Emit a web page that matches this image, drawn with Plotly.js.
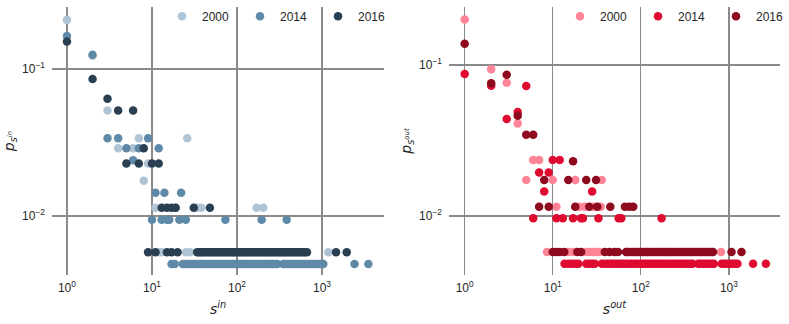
<!DOCTYPE html>
<html>
<head>
<meta charset="utf-8">
<script src="https://cdn.plot.ly/plotly-3.0.1.min.js"></script>
<style>
  html, body { margin: 0; padding: 0; background: #fff; }
  #chart { width: 789px; height: 324px; }
</style>
</head>
<body>
<div id="chart"></div>
<script>
// in-strength distribution (left panel): [s, p] pairs above the tail, tail rows at one level
var in2000Top = [[1,0.216],[2,0.123],[3,0.0523],[4,0.0289],[6,0.0289],[7,0.0338],[26,0.0338],[9,0.0228],[8,0.0174],
  [11,0.0114],[19,0.0114],[34,0.0114],[38,0.0114],[170,0.0114],[204,0.0114]];
var in2000Tail = [12, 13, 25, 28, 35, 39, 43, 47, 52, 58, 65, 72, 80, 89, 98, 110, 121, 134, 150, 166, 184, 205,
  228, 254, 283, 315, 350, 390, 436, 488, 545, 610, 1186];
var in2000Low = 0.00568;

var in2014Top = [[1,0.168],[2,0.125],[3,0.0338],[4,0.0338],[9,0.0338],[5,0.0289],[7,0.0289],[12,0.0289],[6,0.024],
  [11,0.0144],[14,0.0144],[22,0.0144],[10,0.00943],[13,0.00943],[15,0.00943],[16,0.00943],[21,0.00943],
  [25,0.00943],[73,0.00943],[195,0.00943],[384,0.00943]];
var in2014Tail = [17, 18.5, 23, 24.5, 26, 27.5, 29, 31, 33, 35, 37, 39, 41, 44, 46, 49, 52, 55, 58, 61, 64, 68, 72,
  76, 80, 85, 90, 95, 101, 107, 113, 119, 126, 133, 141, 149, 158, 167, 177, 187, 198, 210, 222, 235, 249, 264,
  280, 298, 350, 372, 395, 419, 445, 472, 500, 530, 562, 596, 632, 670, 712, 755, 800, 850, 905, 960, 1036,
  2410, 3508];
var in2014Low = 0.00472;

var in2016Top = [[1,0.154],[2,0.0855],[3,0.0628],[4,0.0523],[6,0.0523],[8,0.0289],[5,0.0228],[7,0.0228],[10,0.0228],
  [12,0.0228],[13,0.0114],[15,0.0114],[17,0.0114],[19,0.0114],[31,0.0114],[48,0.0114]];
var in2016Tail = [9, 11, 15, 17, 20, 34, 36, 38, 40, 43, 46, 49, 52, 55, 58, 62, 66, 70, 74, 79, 84, 89, 94, 100,
  106, 113, 120, 127, 135, 143, 152, 161, 171, 182, 193, 205, 218, 231, 245, 260, 276, 293, 311, 330, 350, 372,
  395, 419, 445, 472, 501, 532, 565, 600, 630, 665, 1462, 1952];
var in2016Low = 0.00568;

// out-strength distribution (right panel)
var out2000Top = [[1,0.2],[2,0.0937],[3,0.0763],[4,0.041],[6,0.0235],[7,0.0235],[5,0.0173],[10,0.0173],[18,0.0173],
  [36,0.0173],[11,0.0115],[20,0.0115],[23,0.0115],[29,0.0115],[35,0.0115]];
var out2000Tail = [8.6, 15, 17, 24, 26, 28, 30, 32, 34, 70, 90, 120, 160, 210, 280, 370, 480, 600, 815];
var out2000Low = 0.00578;

var out2014Top = [[1,0.0872],[2,0.0729],[5,0.0726],[4,0.0489],[3,0.0439],[10,0.0235],[12,0.0235],[7,0.0194],
  [9,0.0194],[8,0.0145],[28,0.0145],[6,0.00967],[11,0.00967],[13,0.00967],[17,0.00967],[21,0.00967],
  [22,0.00967],[33,0.00967],[56,0.00967],[60,0.00967],[172,0.00967]];
var out2014Tail = [13.6, 15, 16.5, 18, 19.5, 24, 26, 28, 30, 36, 39, 42, 45, 48, 52, 56, 60, 64, 69, 74, 79, 85, 91,
  98, 105, 112, 120, 129, 138, 148, 158, 170, 182, 195, 209, 224, 240, 257, 275, 295, 316, 338, 362, 388, 450,
  480, 515, 550, 590, 630, 675, 830, 890, 950, 1020, 1090, 1170, 1250, 1880, 2630];
var out2014Low = 0.00483;

var out2016Top = [[1,0.138],[2,0.0756],[3,0.0863],[4,0.0461],[5,0.0345],[6,0.0345],[17,0.023],[8,0.0173],[15,0.0173],
  [24,0.0173],[31,0.0173],[7,0.0115],[9,0.0115],[18,0.0115],[26,0.0115],[32,0.0115],[45,0.0115],[66,0.0115],
  [74,0.0115],[82,0.0115]];
var out2016Tail = [10, 11, 12, 13.5, 19, 21, 39, 44, 50, 55, 68, 72, 77, 82, 87, 93, 99, 105, 112, 119, 127, 135,
  144, 153, 163, 173, 184, 196, 209, 222, 236, 251, 267, 284, 302, 321, 342, 364, 387, 412, 438, 466, 496, 528,
  561, 597, 635, 660, 1070, 1390];
var out2016Low = 0.00578;

var years = ['2000', '2014', '2016'];
var blues = ['#afc5d6', '#5f8aa7', '#2b3f52'];
var reds = ['#ff8497', '#de0a30', '#8e0a1e'];

var xTickVals = [1, 10, 100, 1000];
var xTickText = ['10<sup>0</sup>', '10<sup>1</sup>', '10<sup>2</sup>', '10<sup>3</sup>'];
var yTickVals = [0.1, 0.01];
var yTickText = ['10<sup>\u22121</sup>', '10<sup>\u22122</sup>'];

function makeTrace(top, tail, low, name, color, xa, ya, leg) {
  return {
    x: top.map(function(d) { return d[0]; }).concat(tail),
    y: top.map(function(d) { return d[1]; }).concat(tail.map(function() { return low; })),
    mode: 'markers',
    type: 'scatter',
    name: name,
    xaxis: xa,
    yaxis: ya,
    legend: leg,
    marker: {color: color, size: 8.5, line: {width: 0}},
    hoverinfo: 'x+y'
  };
}

var data = [
  makeTrace(in2000Top, in2000Tail, in2000Low, years[0], blues[0], 'x', 'y', 'legend'),
  makeTrace(in2014Top, in2014Tail, in2014Low, years[1], blues[1], 'x', 'y', 'legend'),
  makeTrace(in2016Top, in2016Tail, in2016Low, years[2], blues[2], 'x', 'y', 'legend'),
  makeTrace(out2000Top, out2000Tail, out2000Low, years[0], reds[0], 'x2', 'y2', 'legend2'),
  makeTrace(out2014Top, out2014Tail, out2014Low, years[1], reds[1], 'x2', 'y2', 'legend2'),
  makeTrace(out2016Top, out2016Tail, out2016Low, years[2], reds[2], 'x2', 'y2', 'legend2')
];

var W = 789;
var tickFont = {family: 'Liberation Sans, Arial, sans-serif', size: 12, color: '#262626'};
var titleFont = {family: 'DejaVu Sans, sans-serif', size: 14, color: '#262626'};

function xAxis(domain, range, title) {
  return {
    type: 'log',
    domain: domain,
    range: range,
    tickmode: 'array',
    tickvals: xTickVals,
    ticktext: xTickText,
    ticks: '',
    showgrid: true,
    gridcolor: '#8a8a8a',
    gridwidth: 1.3,
    zeroline: false,
    showline: false,
    tickfont: tickFont,
    ticklabelstandoff: 4,
    title: {text: title, font: titleFont, standoff: 10}
  };
}

function yAxis(anchor, range, title) {
  return {
    type: 'log',
    anchor: anchor,
    range: range,
    tickmode: 'array',
    tickvals: yTickVals,
    ticktext: yTickText,
    ticks: '',
    showgrid: true,
    gridcolor: '#8a8a8a',
    gridwidth: 1.3,
    zeroline: false,
    showline: false,
    tickfont: tickFont,
    ticklabelstandoff: 6,
    title: {text: title, font: titleFont, standoff: 4}
  };
}

var legendFont = {family: 'Liberation Sans, Arial, sans-serif', size: 12, color: '#262626'};

var layout = {
  width: 789,
  height: 324,
  margin: {l: 0, r: 0, t: 7, b: 49, autoexpand: false},
  paper_bgcolor: '#ffffff',
  plot_bgcolor: '#ffffff',
  xaxis: xAxis([52 / W, 384 / W], [-0.176, 3.729], '<i>s</i><sup><i>in</i></sup>'),
  yaxis: yAxis('x', [-2.401, -0.578], '<i>p</i><sub><i>s</i><sup><i>in</i></sup></sub>'),
  xaxis2: xAxis([449 / W, 780 / W], [-0.178, 3.58], '<i>s</i><sup><i>out</i></sup>'),
  yaxis2: yAxis('x2', [-2.391, -0.616], '<i>p</i><sub><i>s</i><sup><i>out</i></sup></sub>'),
  legend: {
    orientation: 'h', x: 162 / W, y: 1.02, xanchor: 'left', yanchor: 'top',
    bgcolor: 'rgba(0,0,0,0)', font: legendFont, entrywidth: 33, entrywidthmode: 'pixels'
  },
  legend2: {
    orientation: 'h', x: 560 / W, y: 1.02, xanchor: 'left', yanchor: 'top',
    bgcolor: 'rgba(0,0,0,0)', font: legendFont, entrywidth: 33, entrywidthmode: 'pixels'
  },
  showlegend: true
};

Plotly.newPlot('chart', data, layout, {displayModeBar: false, staticPlot: true});
</script>
</body>
</html>
